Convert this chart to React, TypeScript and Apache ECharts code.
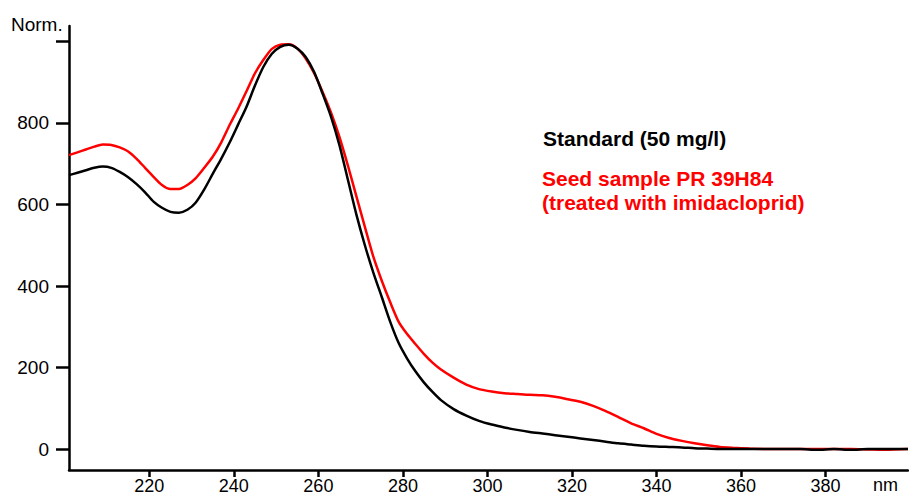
import React, { useEffect, useRef } from "react";
import * as echarts from "echarts";

const wavelengths = [
  201, 203, 205, 207, 209, 211, 213, 215, 217, 219, 221, 223, 225, 227, 229, 231, 233, 235, 237, 239,
  241, 243, 245, 247, 249, 251, 253, 255, 257, 259, 261, 263, 265, 267, 269, 271, 273, 275, 277, 279,
  281, 283, 285, 287, 289, 292, 295, 298, 301, 304, 307, 310, 313, 316, 319, 322, 325, 328, 331, 334,
  337, 340, 343, 346, 349, 352, 355, 358, 362, 366, 370, 374, 378, 382, 386, 390, 394, 399.5,
];

const standardValues = [
  672, 678, 684, 690, 693, 690, 680, 667, 650, 630, 607, 592, 582, 580, 587, 605, 637, 675, 712, 752,
  796, 840, 892, 938, 970, 987, 992, 983, 962, 925, 872, 815, 745, 660, 575, 500, 433, 373, 312, 260,
  222, 190, 163, 140, 120, 98, 82, 69, 60, 53, 47, 42, 38, 34, 30, 26, 22, 18, 14, 11,
  8, 6, 5, 4, 2, 1, 0, 0, 0, 0, 0, 0, -2, 0, -2, 0, 0, 0,
];

const sampleValues = [
  721, 728, 735, 742, 747, 746, 740, 730, 712, 690, 668, 648, 638, 638, 648, 665, 690, 717, 752, 795,
  835, 878, 922, 955, 982, 992, 993, 983, 958, 922, 876, 825, 765, 695, 620, 545, 472, 413, 360, 312,
  282, 257, 233, 212, 195, 175, 158, 147, 141, 137, 135, 133, 132, 128, 122, 116, 106, 93, 78, 63,
  51, 37, 27, 20, 14, 9, 5, 3, 1, 0, 0, 0, 0, 0, 0, -1, -2, 0,
];

const xTickValues = [220, 240, 260, 280, 300, 320, 340, 360, 380];
const yTickValues = [0, 200, 400, 600, 800, 1000];
const yLabelValues = [0, 200, 400, 600, 800];

const standardName = "Standard (50 mg/l)";
const sampleNameLine1 = "Seed sample PR 39H84";
const sampleNameLine2 = "(treated with imidacloprid)";

const FONT = "'Liberation Sans', Arial, Helvetica, sans-serif";

export default function App() {
  const ref = useRef<HTMLDivElement>(null);

  useEffect(() => {
    if (!ref.current) return;
    const chart = echarts.init(ref.current, undefined, { renderer: "svg" });
    const pair = (vals: number[]) => wavelengths.map((w, i) => [w, vals[i]]);
    chart.setOption({
      animation: false,
      backgroundColor: "#ffffff",
      grid: { left: 69, right: 1, top: 26, bottom: 27, containLabel: false, outerBoundsMode: "none" },
      xAxis: {
        type: "value",
        min: 201,
        max: 399.5,
        axisLine: { show: true, onZero: false, lineStyle: { color: "#000", width: 2.5 } },
        axisTick: { show: true, length: 7, lineStyle: { color: "#000", width: 2.5 }, customValues: xTickValues },
        axisLabel: {
          show: true,
          color: "#000",
          fontSize: 18,
          fontFamily: FONT,
          margin: 7,
          customValues: xTickValues,
        },
        splitLine: { show: false },
      },
      yAxis: {
        type: "value",
        min: -51.5,
        max: 1038,
        axisLine: { show: true, onZero: false, lineStyle: { color: "#000", width: 2.5 } },
        axisTick: { show: true, length: 13, lineStyle: { color: "#000", width: 2.5 }, customValues: yTickValues },
        axisLabel: { show: true, color: "#000", fontSize: 19, fontFamily: FONT, margin: 20, customValues: yLabelValues },
        splitLine: { show: false },
      },
      series: [
        {
          name: sampleNameLine1,
          type: "line",
          data: pair(sampleValues),
          showSymbol: false,
          smooth: 0.25,
          lineStyle: { color: "#ff0000", width: 2.5 },
          z: 2,
        },
        {
          name: standardName,
          type: "line",
          data: pair(standardValues),
          showSymbol: false,
          smooth: 0.25,
          lineStyle: { color: "#000000", width: 2.5 },
          z: 3,
        },
      ],
      graphic: [
        {
          type: "text",
          left: 11,
          top: 15,
          style: { text: "Norm.", fill: "#000", fontSize: 19, fontFamily: FONT },
        },
        {
          type: "text",
          left: 873,
          top: 476,
          style: { text: "nm", fill: "#000", fontSize: 18, fontFamily: FONT },
        },
        {
          type: "text",
          left: 543,
          top: 128,
          style: { text: standardName, fill: "#000", fontSize: 21, fontWeight: "bold", fontFamily: FONT },
        },
        {
          type: "text",
          left: 542,
          top: 168,
          style: { text: sampleNameLine1, fill: "#ff0000", fontSize: 21, fontWeight: "bold", fontFamily: FONT },
        },
        {
          type: "text",
          left: 542,
          top: 192,
          style: { text: sampleNameLine2, fill: "#ff0000", fontSize: 21, fontWeight: "bold", fontFamily: FONT },
        },
      ],
    });
    return () => chart.dispose();
  }, []);

  return (
    <div
      ref={ref}
      style={{ position: "fixed", left: 0, top: 0, width: 909, height: 497, background: "#fff" }}
    />
  );
}
